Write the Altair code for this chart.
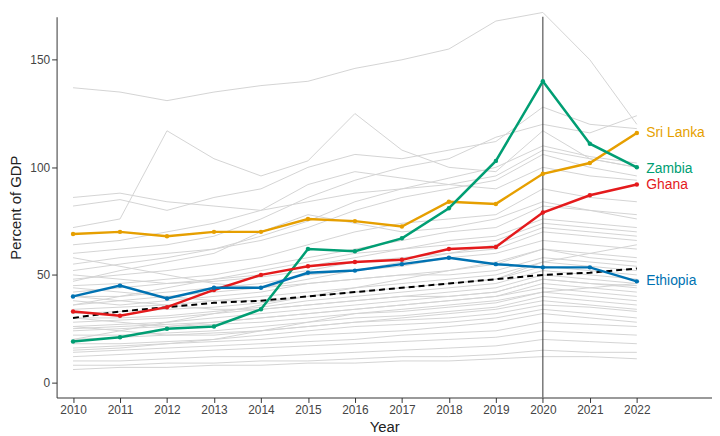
import altair as alt
import pandas as pd

years = list(range(2010, 2023))

# highlighted countries
sri_lanka = [69, 70, 68, 70, 70, 76, 75, 72.5, 84, 83, 97, 102, 116]
zambia = [19, 21, 25, 26, 34, 62, 61, 67, 81, 103, 140, 111, 100]
ghana = [33, 31, 35, 43, 50, 54, 56, 57, 62, 63, 79, 87, 92]
ethiopia = [40, 45, 39, 44, 44, 51, 52, 55, 58, 55, 53.5, 53.5, 47]
median = [30, 33, 35, 37, 38, 40, 42, 44, 46, 48, 50, 51, 53]

# other countries (grey background)
others = [
    [137, 135, 131, 135, 138, 140, 146, 150, 155, 168, 172, 150, 120],
    [82, 85, 80, 86, 90, 100, 106, 104, 108, 112, 128, 120, 118],
    [72, 76, 117, 104, 96, 103, 125, 108, 100, 98, 117, 104, 100],
    [60, 62, 64, 68, 76, 86, 94, 100, 104, 114, 120, 116, 124],
    [55, 58, 60, 62, 66, 72, 80, 86, 90, 94, 106, 100, 96],
    [48, 50, 52, 55, 58, 64, 70, 74, 76, 78, 90, 86, 84],
    [45, 46, 48, 50, 54, 58, 62, 66, 70, 72, 82, 80, 76],
    [42, 44, 46, 47, 49, 52, 56, 58, 60, 62, 70, 68, 66],
    [40, 40, 42, 44, 46, 50, 52, 54, 58, 60, 66, 64, 62],
    [38, 36, 38, 40, 42, 46, 48, 50, 52, 55, 62, 60, 58],
    [36, 38, 40, 42, 44, 46, 48, 50, 50, 52, 58, 56, 54],
    [34, 35, 36, 38, 40, 42, 44, 46, 48, 50, 56, 54, 52],
    [32, 33, 34, 35, 37, 40, 42, 44, 46, 48, 54, 52, 50],
    [30, 30, 31, 33, 35, 38, 40, 42, 44, 46, 52, 50, 48],
    [28, 29, 30, 32, 34, 36, 38, 40, 42, 44, 50, 48, 46],
    [26, 27, 28, 30, 32, 34, 36, 38, 40, 42, 48, 46, 44],
    [25, 26, 27, 28, 30, 32, 34, 36, 38, 40, 46, 44, 42],
    [24, 25, 26, 27, 28, 30, 32, 33, 35, 37, 42, 40, 38],
    [22, 22, 23, 24, 26, 28, 30, 31, 33, 35, 40, 38, 36],
    [20, 21, 22, 23, 24, 26, 28, 29, 30, 32, 36, 35, 33],
    [18, 18, 19, 20, 22, 24, 26, 27, 28, 30, 34, 32, 30],
    [16, 17, 18, 19, 20, 22, 23, 24, 26, 28, 32, 30, 28],
    [14, 15, 16, 17, 18, 19, 20, 22, 23, 24, 28, 27, 26],
    [12, 13, 14, 15, 16, 17, 18, 19, 20, 21, 24, 23, 22],
    [10, 10, 11, 12, 12, 13, 14, 15, 16, 17, 20, 19, 18],
    [8, 8, 9, 9, 10, 10, 11, 12, 12, 13, 15, 14, 14],
    [6, 7, 7, 8, 8, 9, 9, 10, 10, 11, 12, 12, 11],
    [52, 55, 58, 62, 68, 75, 84, 90, 95, 100, 110, 105, 102],
    [64, 66, 70, 74, 80, 92, 98, 95, 92, 90, 100, 96, 94],
    [86, 88, 84, 82, 80, 84, 88, 90, 92, 96, 108, 104, 100],
    [47, 52, 56, 60, 70, 78, 74, 70, 72, 76, 84, 80, 78],
    [58, 54, 50, 46, 44, 48, 52, 56, 60, 64, 72, 70, 68],
    [36, 40, 44, 48, 52, 56, 60, 62, 64, 66, 74, 72, 70],
    [44, 42, 40, 38, 38, 40, 42, 44, 46, 48, 56, 60, 64],
    [30, 28, 26, 28, 30, 32, 34, 36, 38, 40, 44, 42, 40],
    [20, 24, 28, 32, 36, 40, 44, 48, 52, 56, 62, 58, 56],
    [50, 48, 46, 48, 50, 54, 58, 62, 66, 68, 76, 74, 72],
    [15, 16, 18, 20, 24, 28, 32, 34, 36, 38, 42, 44, 46],
    [40, 38, 36, 34, 34, 36, 38, 40, 40, 42, 48, 46, 45],
    [26, 24, 22, 22, 24, 26, 28, 30, 32, 34, 38, 36, 34],
]

rows = []
for i, s in enumerate(others):
    for y, v in zip(years, s):
        rows.append({'country': f'c{i}', 'year': y, 'value': v})
dfOthers = pd.DataFrame(rows)

names = ['Sri Lanka', 'Zambia', 'Ghana', 'Ethiopia']
colors = ['#E69F00', '#009E73', '#E41A1C', '#0072B2']
rows = []
for n, s in zip(names, [sri_lanka, zambia, ghana, ethiopia]):
    for y, v in zip(years, s):
        rows.append({'country': n, 'year': y, 'value': v})
dfHi = pd.DataFrame(rows)
dfMed = pd.DataFrame({'year': years, 'value': median})
dfLab = pd.DataFrame({'country': names, 'year': [2022.2] * 4,
                      'value': [sri_lanka[-1], zambia[-1] - 1, ghana[-1], ethiopia[-1]]})

xs = alt.Scale(domain=[2009.65, 2023.6], nice=False)
ys = alt.Scale(domain=[-7, 170], nice=False)
cs = alt.Scale(domain=names, range=colors)
X = alt.X('year:Q', scale=xs, title='Year',
          axis=alt.Axis(values=years, format='d', grid=False, tickColor='#333'))
Y = alt.Y('value:Q', scale=ys, title='Percent of GDP',
          axis=alt.Axis(values=[0, 50, 100, 150], grid=False, tickColor='#333', titlePadding=6))

grey = alt.Chart(dfOthers).mark_line(color='#d3d3d3', strokeWidth=1).encode(x=X, y=Y, detail='country:N')
vline = alt.Chart(pd.DataFrame({'year': [2020]})).mark_rule(color='#333', strokeWidth=1).encode(x=alt.X('year:Q', scale=xs))
med = alt.Chart(dfMed).mark_line(color='black', strokeDash=[6, 4], strokeWidth=2).encode(x=X, y=Y)
hi = alt.Chart(dfHi).mark_line(point=alt.OverlayMarkDef(size=20), strokeWidth=2.5).encode(
    x=X, y=Y, color=alt.Color('country:N', scale=cs, legend=None))
lab = alt.Chart(dfLab).mark_text(align='left', fontSize=14, font='Liberation Sans').encode(
    x=alt.X('year:Q', scale=xs), y=alt.Y('value:Q', scale=ys), text='country:N',
    color=alt.Color('country:N', scale=cs, legend=None))

chart = alt.layer(grey, vline, med, hi, lab).properties(
    width=710, height=430, autosize=alt.AutoSizeParams(type='fit', contains='padding'),
    padding={'left': 0, 'top': 0, 'right': 0, 'bottom': 2}
).configure_view(stroke=None).configure_axis(
    domainColor='#333', labelFont='Liberation Sans', titleFont='Liberation Sans',
    labelFontSize=12, titleFontSize=15, titleFontWeight='normal', labelColor='#444', titleColor='#222')

chart.save("out.html", embed_options={"renderer": "svg", "actions": False})
